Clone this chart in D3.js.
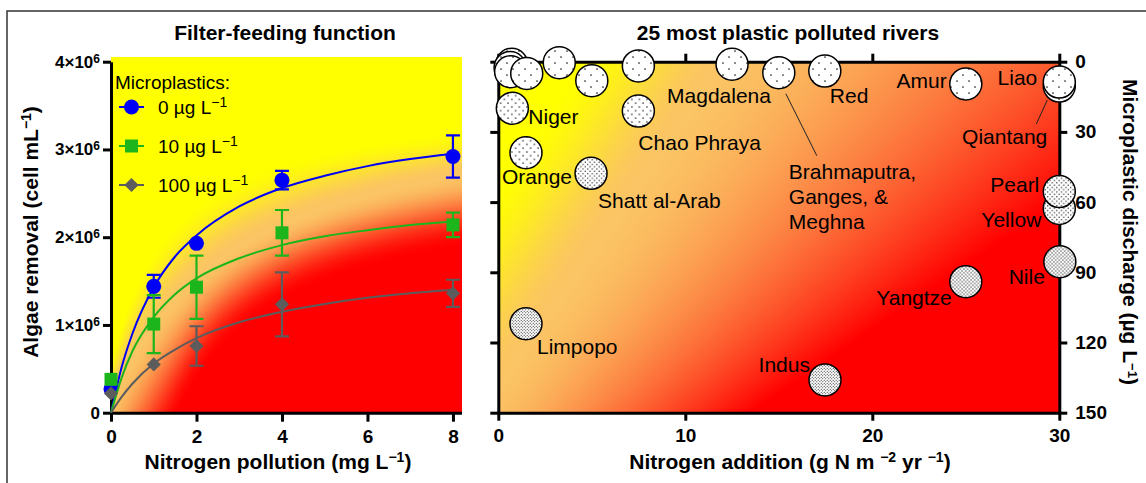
<!DOCTYPE html>
<html>
<head>
<meta charset="utf-8">
<script src="https://cdnjs.cloudflare.com/ajax/libs/d3/7.8.5/d3.min.js"></script>
<style>
    body { margin: 0; background: #fff; }
    svg { display: block; font-family: "Liberation Sans", Arial, sans-serif; }
    .axis .domain, .axis line { stroke: #000; stroke-width: 3; }
</style>
</head>
<body>
<svg id="chart" width="1146" height="483"></svg>
<script>
    // ---- left panel: filter feeding (algae removal, x 10^6 cells per mL) ----
    var nitrogenDoses = [0, 1, 2, 4, 8];
    var seriesNames = ['0 \u00b5g L', '10 \u00b5g L', '100 \u00b5g L'];
    var removal0 = [0.27, 1.44, 1.93, 2.65, 2.92];
    var removal10 = [0.38, 1.01, 1.43, 2.05, 2.14];
    var removal100 = [0.22, 0.55, 0.76, 1.235, 1.36];
    var error0 = [0, 0.13, 0, 0.105, 0.24];
    var error10 = [0, 0.33, 0.36, 0.26, 0.14];
    var error100 = [0, 0, 0.225, 0.365, 0.155];

    // fitted saturation curves
    var fitDoses = [0, 0.25, 0.5, 1, 1.5, 2, 3, 4, 5, 6, 7, 8];
    var fit0 = [0, 0.52, 0.90, 1.43, 1.78, 2.02, 2.35, 2.56, 2.70, 2.81, 2.89, 2.95];
    var fit10 = [0, 0.40, 0.70, 1.09, 1.35, 1.53, 1.76, 1.91, 2.01, 2.08, 2.14, 2.18];
    var fit100 = [0, 0.18, 0.33, 0.56, 0.72, 0.85, 1.03, 1.15, 1.24, 1.31, 1.36, 1.40];

    var removalTicks = [0, 1, 2, 3, 4];
    var doseTicks = [0, 2, 4, 6, 8];

    // ---- right panel: 25 most plastic polluted rivers ----
    var riverNames = ['', '', '', '', '', '', '', 'Niger', 'Orange', 'Chao Phraya', 'Shatt al-Arab', 'Limpopo',
        'Magdalena', 'Brahmaputra, Ganges, & Meghna', 'Red', 'Indus', 'Amur', 'Qiantang', 'Liao',
        'Yellow', 'Pearl', 'Nile', 'Yangtze'];
    var riverNitrogen = [0.72, 0.63, 0.66, 1.52, 3.26, 5.0, 7.49, 0.75, 1.48, 7.49, 4.96, 1.48,
        12.5, 15.0, 17.46, 17.47, 25.0, 30.0, 30.0, 30.0, 30.0, 30.03, 25.0];
    var riverPlastic = [1.1, 2.5, 4.3, 5.0, 0.4, 8.1, 1.8, 19.9, 38.9, 21.1, 47.7, 112,
        1.1, 4.7, 4.0, 136, 9.5, 10.4, 8.7, 62.7, 55.5, 85.5, 94];
    var additionTicks = [0, 10, 20, 30];
    var dischargeTicks = [0, 30, 60, 90, 120, 150];

    // label placement (pixels from circle centre), kept apart from the data
    var labelLayout = {
        'Niger': { dx: 16, dy: 16, anchor: 'start' },
        'Orange': { dx: -24, dy: 31, anchor: 'start' },
        'Chao Phraya': { dx: 0, dy: 39, anchor: 'start' },
        'Shatt al-Arab': { dx: 7, dy: 35, anchor: 'start' },
        'Limpopo': { dx: 11, dy: 30, anchor: 'start' },
        'Magdalena': { dx: -65, dy: 39, anchor: 'start' },
        'Brahmaputra, Ganges, & Meghna': { dx: 10, dy: 106, anchor: 'start', lines: ['Brahmaputra,', 'Ganges, &', 'Meghna'], leader: [7, 21, 38, 83] },
        'Red': { dx: 5, dy: 32, anchor: 'start' },
        'Indus': { dx: -15, dy: -8, anchor: 'end' },
        'Amur': { dx: -19, dy: 4, anchor: 'end' },
        'Liao': { dx: -22, dy: 3, anchor: 'end' },
        'Qiantang': { dx: -12, dy: 58, anchor: 'end', leader: [-12, 14, -23, 38] },
        'Pearl': { dx: -20, dy: 0, anchor: 'end' },
        'Yellow': { dx: -18, dy: 19, anchor: 'end' },
        'Nile': { dx: -15, dy: 22, anchor: 'end' },
        'Yangtze': { dx: -14, dy: 23, anchor: 'end' }
    };

    var svg = d3.select('#chart');
    var colors = ['#0000f5', '#1cb51c', '#5c5c5c'];
    var ramp = d3.piecewise(d3.interpolateRgb, ['#ffff00', '#fbc464', '#ff0000']);

    svg.append('rect').attr('width', 1146).attr('height', 483).attr('fill', '#fff');
    svg.append('path').attr('d', 'M7,483V11H1146').attr('fill', 'none').attr('stroke', '#333').attr('stroke-width', 1.5);

    function smooth(h) {
        h = Math.max(0, Math.min(1, h));
        return h * h * (3 - 2 * h);
    }

    // paints a background field into an <image>, colour from t(x, y) in pixel space
    function paintField(x0, y0, w, h, field) {
        var cv = document.createElement('canvas');
        cv.width = w;
        cv.height = h;
        var ctx = cv.getContext('2d');
        var img = ctx.createImageData(w, h);
        for (var j = 0; j < h; j++) {
            for (var i = 0; i < w; i++) {
                var c = d3.rgb(ramp(field(x0 + i + 0.5, y0 + j + 0.5)));
                var k = (j * w + i) * 4;
                img.data[k] = c.r;
                img.data[k + 1] = c.g;
                img.data[k + 2] = c.b;
                img.data[k + 3] = 255;
            }
        }
        ctx.putImageData(img, 0, 0);
        svg.append('image').attr('x', x0).attr('y', y0).attr('width', w).attr('height', h)
            .attr('href', cv.toDataURL());
    }

    function richText(sel, parts, supSize, supShift) {
        parts.forEach(function(p, i) {
            var t = sel.append('tspan').text(p[0]);
            if (p[1]) {
                t.attr('font-size', supSize).attr('dy', -supShift);
            } else if (i > 0 && parts[i - 1][1]) {
                t.attr('dy', supShift);
            }
        });
        return sel;
    }

    function boldTicks(g, size) {
        g.attr('font-size', size).attr('font-weight', 'bold')
            .attr('font-family', '"Liberation Sans", Arial, sans-serif');
        g.selectAll('.tick text').attr('fill', '#000');
        return g;
    }

    // ================= left panel =================
    var xL = d3.scaleLinear().domain([0, 8.2]).range([111, 461.5]);
    var yL = d3.scaleLinear().domain([0, 4]).range([412.7, 61.7]);

    paintField(Math.round(xL(0)), Math.round(yL(4.05)), Math.round(xL(8.2) - xL(0)), Math.round(yL(0) - yL(4.05)), function(px, py) {
        var x = xL.invert(px), y = yL.invert(py);
        var top = 0.6 + 3.08 * x / (1.47 + x);
        var mid = 0.1 + 3.55 * x / (2.93 + x);
        var low = x > 1.6 ? 2.6 * (x - 1.6) / (x - 1.6 + 2.5) : (x - 1.6) * 1.04;
        if (y >= top) return 0;
        if (y >= mid) return 0.5 * smooth((top - y) / (top - mid));
        if (y >= low) return 0.5 + 0.5 * smooth((mid - y) / (mid - low));
        return 1;
    });

    var axL = svg.append('g').attr('class', 'axis').attr('transform', 'translate(' + xL(0) + ',0)')
        .call(d3.axisLeft(yL).tickValues(removalTicks).tickSize(8).tickSizeOuter(0).tickPadding(3).tickFormat(''));
    boldTicks(axL, 17);
    axL.selectAll('.tick text').each(function(d) {
        var t = d3.select(this);
        if (d === 0) {
            t.text('0');
        } else {
            richText(t, [[d + '\u00d710', false], ['6', true]], 12, 5);
        }
    });
    boldTicks(svg.append('g').attr('class', 'axis').attr('transform', 'translate(0,' + yL(0) + ')')
        .call(d3.axisBottom(xL).tickValues(doseTicks).tickSize(9).tickSizeOuter(0).tickPadding(8)), 19);

    var fits = [fit0, fit10, fit100];
    var means = [removal0, removal10, removal100];
    var errors = [error0, error10, error100];
    var line = d3.line().curve(d3.curveMonotoneX)
        .x(function(d) { return xL(d[0]); }).y(function(d) { return yL(d[1]); });

    function marker(g, k, cx, cy) {
        if (k === 0) {
            g.append('circle').attr('cx', cx).attr('cy', cy).attr('r', 7.5).attr('fill', colors[k]);
        } else if (k === 1) {
            g.append('rect').attr('x', cx - 6.5).attr('y', cy - 6.5).attr('width', 13).attr('height', 13).attr('fill', colors[k]);
        } else {
            g.append('path').attr('d', d3.symbol(d3.symbolSquare, 100)())
                .attr('transform', 'translate(' + cx + ',' + cy + ') rotate(45)').attr('fill', colors[k]);
        }
    }

    fits.forEach(function(fit, k) {
        var g = svg.append('g');
        g.append('path').datum(d3.zip(fitDoses, fit)).attr('d', line)
            .attr('fill', 'none').attr('stroke', colors[k]).attr('stroke-width', 2);
        nitrogenDoses.forEach(function(dose, i) {
            var e = errors[k][i];
            if (e > 0) {
                var cx = xL(dose), y1 = yL(means[k][i] + e), y2 = yL(means[k][i] - e);
                g.append('path').attr('d', 'M' + cx + ',' + y1 + 'V' + y2 + 'M' + (cx - 7) + ',' + y1 + 'H' + (cx + 7) + 'M' + (cx - 7) + ',' + y2 + 'H' + (cx + 7))
                    .attr('stroke', colors[k]).attr('stroke-width', 2.2).attr('fill', 'none');
            }
            marker(g, k, xL(dose), yL(means[k][i]));
        });
    });

    // legend
    svg.append('text').attr('x', 115).attr('y', 89).attr('font-size', 19).text('Microplastics:');
    seriesNames.forEach(function(name, k) {
        var cy = 107 + k * 39;
        var g = svg.append('g');
        g.append('line').attr('x1', 119).attr('x2', 144).attr('y1', cy).attr('y2', cy)
            .attr('stroke', colors[k]).attr('stroke-width', 2);
        marker(g, k, 131.5, cy);
        richText(g.append('text').attr('x', 158).attr('y', cy + 7).attr('font-size', 19),
            [[name, false], ['\u22121', true]], 14, 7);
    });

    svg.append('text').attr('x', 285).attr('y', 40).attr('text-anchor', 'middle')
        .attr('font-size', 21).attr('font-weight', 'bold').text('Filter-feeding function');
    richText(svg.append('text').attr('x', 278).attr('y', 469).attr('text-anchor', 'middle')
        .attr('font-size', 21).attr('font-weight', 'bold'),
        [['Nitrogen pollution (mg L', false], ['\u22121', true], [')', false]], 14, 7);
    richText(svg.append('text').attr('transform', 'translate(38,232) rotate(-90)').attr('text-anchor', 'middle')
        .attr('font-size', 21).attr('font-weight', 'bold'),
        [['Algae removal (cell mL', false], ['\u22121', true], [')', false]], 14, 7);

    // ================= right panel =================
    var xR = d3.scaleLinear().domain([0, 30]).range([498.3, 1059.3]);
    var yR = d3.scaleLinear().domain([0, 150]).range([61.7, 412.7]);

    paintField(Math.round(xR(0)), Math.round(yR(0)), Math.round(xR(30) - xR(0)), Math.round(yR(150) - yR(0)), function(px, py) {
        var u = xR.invert(px) / 30, v = yR.invert(py) / 150;
        var l1 = u / 0.4 + v / 0.93;
        var l2 = 0.732 * u + 0.671 * v;
        if (l1 < 0.35) return 0;
        if (l1 < 1) return 0.5 * smooth((l1 - 0.35) / 0.65);
        if (l2 >= 1) return 1;
        var d1 = (l1 - 1) / 2.72, d2 = (1 - l2) / 0.995;
        return 0.5 + 0.5 * Math.pow(d1 / (d1 + d2), 1.5);
    });

    boldTicks(svg.append('g').attr('class', 'axis').attr('transform', 'translate(0,' + yR(150) + ')')
        .call(d3.axisBottom(xR).tickValues(additionTicks).tickSize(8).tickSizeOuter(0).tickPadding(8)), 19);
    svg.append('g').attr('class', 'axis').attr('transform', 'translate(0,' + yR(0) + ')')
        .call(d3.axisTop(xR).tickValues(additionTicks).tickSize(8).tickSizeOuter(0).tickFormat(''));
    svg.append('g').attr('class', 'axis').attr('transform', 'translate(' + xR(0) + ',0)')
        .call(d3.axisLeft(yR).tickValues(dischargeTicks).tickSize(8).tickSizeOuter(0).tickFormat(''));
    boldTicks(svg.append('g').attr('class', 'axis').attr('transform', 'translate(' + xR(30) + ',0)')
        .call(d3.axisRight(yR).tickValues(dischargeTicks).tickSize(8).tickSizeOuter(0).tickPadding(8)), 19);

    // stipple patterns, denser for more microplastic
    var stipples = [
        { max: 15, s: 12, r: 0.85 },
        { max: 42, s: 7.5, r: 0.8 },
        { max: 75, s: 4.6, r: 0.7 },
        { max: 100, s: 3.6, r: 0.65 },
        { max: 1000, s: 3.0, r: 0.6 }
    ];
    var defs = svg.append('defs');
    stipples.forEach(function(p, i) {
        var pat = defs.append('pattern').attr('id', 'dots' + i).attr('patternUnits', 'userSpaceOnUse')
            .attr('width', p.s).attr('height', p.s);
        pat.append('rect').attr('width', p.s).attr('height', p.s).attr('fill', '#fff');
        pat.append('circle').attr('cx', p.s * 0.25).attr('cy', p.s * 0.25).attr('r', p.r).attr('fill', '#222');
        pat.append('circle').attr('cx', p.s * 0.75).attr('cy', p.s * 0.75).attr('r', p.r).attr('fill', '#222');
    });
    function stippleFor(mp) {
        for (var i = 0; i < stipples.length; i++) {
            if (mp < stipples[i].max) return 'url(#dots' + i + ')';
        }
    }

    var rivers = d3.zip(riverNames, riverNitrogen, riverPlastic);
    svg.append('g').selectAll('circle').data(rivers).join('circle')
        .attr('cx', function(d) { return xR(d[1]); })
        .attr('cy', function(d) { return yR(d[2]); })
        .attr('r', 16)
        .attr('fill', function(d) { return stippleFor(d[2]); })
        .attr('stroke', '#000').attr('stroke-width', 1.5);

    var labels = svg.append('g').attr('font-size', 21);
    rivers.forEach(function(d) {
        var lay = labelLayout[d[0]];
        if (!lay) return;
        var cx = xR(d[1]), cy = yR(d[2]);
        if (lay.leader) {
            labels.append('line').attr('x1', cx + lay.leader[0]).attr('y1', cy + lay.leader[1])
                .attr('x2', cx + lay.leader[2]).attr('y2', cy + lay.leader[3])
                .attr('stroke', '#222').attr('stroke-width', 1);
        }
        var lines = lay.lines || [d[0]];
        lines.forEach(function(s, i) {
            labels.append('text').attr('x', cx + lay.dx).attr('y', cy + lay.dy + i * 25)
                .attr('text-anchor', lay.anchor).text(s);
        });
    });

    svg.append('text').attr('x', 788).attr('y', 40).attr('text-anchor', 'middle')
        .attr('font-size', 21).attr('font-weight', 'bold').text('25 most plastic polluted rivers');
    richText(svg.append('text').attr('x', 790).attr('y', 469).attr('text-anchor', 'middle')
        .attr('font-size', 21).attr('font-weight', 'bold'),
        [['Nitrogen addition (g N m ', false], ['\u22122', true], [' yr ', false], ['\u22121', true], [')', false]], 14, 7);
    richText(svg.append('text').attr('transform', 'translate(1123,232) rotate(90)').attr('text-anchor', 'middle')
        .attr('font-size', 21).attr('font-weight', 'bold'),
        [['Microplastic discharge (\u00b5g L', false], ['\u22121', true], [')', false]], 13, 5);
</script>
</body>
</html>
